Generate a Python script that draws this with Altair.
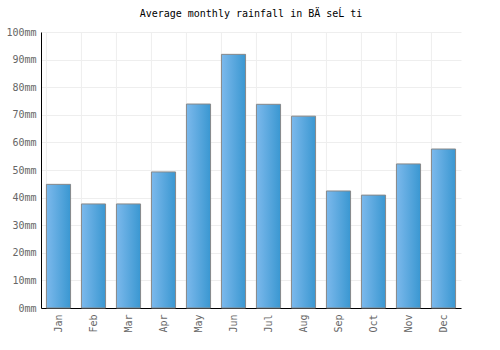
import altair as alt
import pandas as pd

months = ["Jan", "Feb", "Mar", "Apr", "May", "Jun", "Jul", "Aug", "Sep", "Oct", "Nov", "Dec"]
rainfall = [44.8, 37.7, 37.7, 49.3, 73.9, 91.9, 73.8, 69.5, 42.4, 40.9, 52.2, 57.6]
y_ticks = [0, 10, 20, 30, 40, 50, 60, 70, 80, 90, 100]

df = pd.DataFrame({"month": months, "rain": rainfall})
FONT = "DejaVu Sans Mono"

grad = alt.Gradient(
    gradient="linear",
    stops=[alt.GradientStop(color="#7cb9ec", offset=0),
           alt.GradientStop(color="#3a97d1", offset=1)],
    x1=0, x2=1, y1=0, y2=0,
)

xscale = alt.Scale(domain=months, paddingInner=0.31, paddingOuter=0.155)
xaxis = alt.Axis(labelAngle=-90, ticks=False, grid=False, domainColor="#000",
                 labelColor="#666", labelFont=FONT, labelFontSize=10, labelPadding=6)

grid = alt.Chart(df).mark_rule(color="#eeeeee", strokeWidth=1).encode(
    x=alt.X("month:N", sort=months, scale=xscale, bandPosition=0, title=None, axis=xaxis),
)

bars = alt.Chart(df).mark_bar(color=grad, stroke="#888888", strokeWidth=1).encode(
    x=alt.X("month:N", sort=months, scale=xscale, title=None, axis=xaxis),
    y=alt.Y("rain:Q", scale=alt.Scale(domain=[0, 100]), title=None,
            axis=alt.Axis(values=y_ticks, labelExpr="datum.value + 'mm'", ticks=False,
                          gridColor="#eeeeee", domainColor="#000", labelColor="#666",
                          labelFont=FONT, labelFontSize=10, labelPadding=5)),
)

chart = alt.layer(grid, bars).properties(
    width=420, height=276,
    title=alt.TitleParams("Average monthly rainfall in BÄ seĹ ti", font=FONT, fontSize=10,
                          fontWeight="normal", color="#000", offset=8),
    padding={"left": 41, "top": 32, "right": 39, "bottom": 42},
    autosize=alt.AutoSizeParams(type="none"),
).configure_view(stroke=None)

chart.save("out.html", embed_options={"renderer": "svg", "actions": False})
